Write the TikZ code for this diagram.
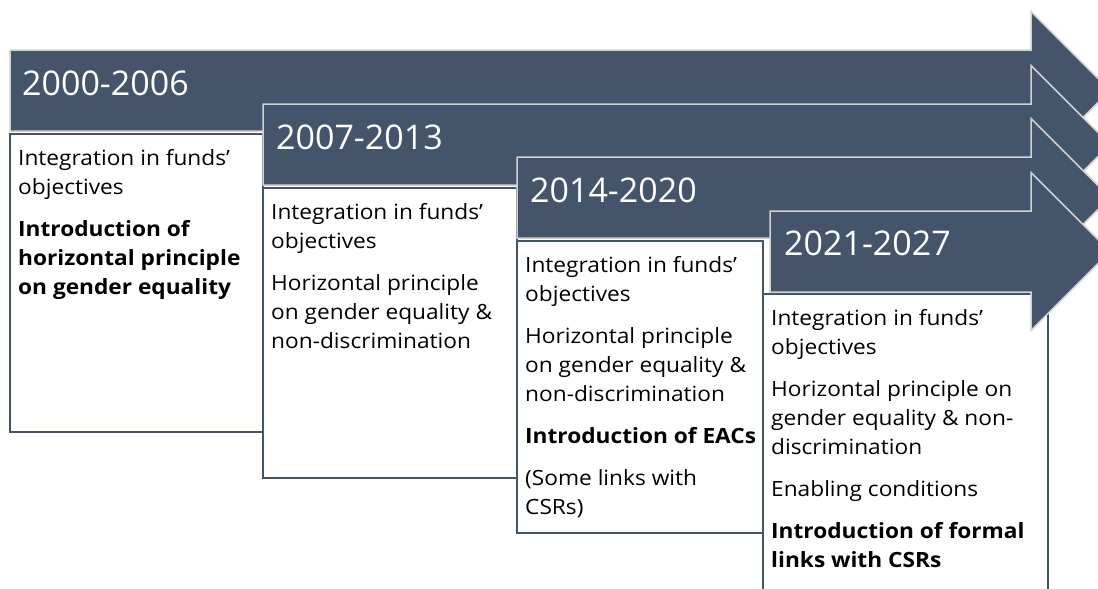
\documentclass[tikz,border=0pt]{standalone}
\usepackage{fontspec}
\setmainfont{Open Sans}
\newfontfamily\boxfont{Open Sans}[FakeStretch=1.08]
\definecolor{slate}{HTML}{44546A}
\tikzset{
	period/.style={fill=slate,draw=black!18,line width=1.5pt,line join=miter},
	yearlabel/.style={anchor=west,text=white,inner sep=0pt,font=\fontsize{34}{40}\selectfont},
	periodbox/.style={draw=slate,fill=white,line width=1.5pt,anchor=north west,outer sep=0pt,inner sep=0pt},
	boxtext/.style={anchor=north west,align=left,inner sep=0pt,xshift=8pt,yshift=-15pt,font=\boxfont\fontsize{21}{29}\selectfont}
}
\begin{document}
\begin{tikzpicture}[x=1pt,y=-1pt]
		\useasboundingbox (0,0) rectangle (1098,589);
		\clip (0,0) rectangle (1098,589);
		% 2000-2006
		\node[periodbox,minimum width=253,minimum height=298] (box1) at (10,134) {};
		\node[boxtext] (txt1) at (box1.north west) {Integration in funds’\\objectives\\[13pt]
			\textbf{Introduction of}\\\textbf{horizontal principle}\\\textbf{on gender equality}};
		\draw[period] (10,50)--(1031,50)--(1031,11.5)--(1110,90.5)--(1031,169.5)--(1031,131)--(10,131)--cycle;
		\node[yearlabel] (year1) at (22,83) {2000-2006};
		% 2007-2013
		\node[periodbox,minimum width=254,minimum height=290] (box2) at (263,188) {};
		\node[boxtext] (txt2) at (box2.north west) {Integration in funds’\\objectives\\[13pt]
			Horizontal principle\\on gender equality \&\\non-discrimination};
		\draw[period] (263,104)--(1031,104)--(1031,65.5)--(1110,144.5)--(1031,223.5)--(1031,185)--(263,185)--cycle;
		\node[yearlabel] (year2) at (276,137) {2007-2013};
		% 2014-2020
		\node[periodbox,minimum width=246,minimum height=292] (box3) at (517,241) {};
		\node[boxtext] (txt3) at (box3.north west) {Integration in funds’\\objectives\\[13pt]
			Horizontal principle\\on gender equality \&\\non-discrimination\\[13pt]
			\textbf{Introduction of EACs}\\[13pt](Some links with\\CSRs)};
		\draw[period] (517,157)--(1031,157)--(1031,118.5)--(1110,197.5)--(1031,276.5)--(1031,238)--(517,238)--cycle;
		\node[yearlabel] (year3) at (530,190) {2014-2020};
		% 2021-2027
		\node[periodbox,minimum width=285,minimum height=310] (box4) at (763,294) {};
		\node[boxtext] (txt4) at (box4.north west) {Integration in funds’\\objectives\\[13pt]
			Horizontal principle on\\gender equality \& non-\\discrimination\\[13pt]
			Enabling conditions\\[13pt]\textbf{Introduction of formal}\\\textbf{links with CSRs}};
		\draw[period] (770,211)--(1031,211)--(1031,172.5)--(1110,251.5)--(1031,330.5)--(1031,292)--(770,292)--cycle;
		\node[yearlabel] (year4) at (784,243) {2021-2027};
\end{tikzpicture}
\end{document}
